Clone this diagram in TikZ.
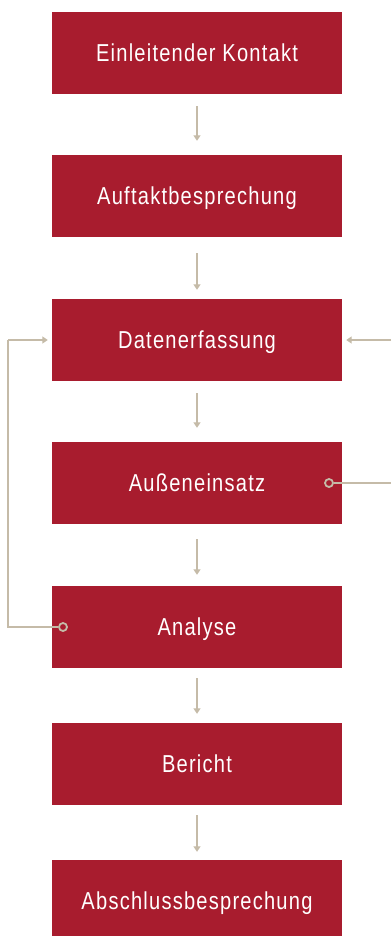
\documentclass[tikz,border=0pt]{standalone}
\usepackage{fontspec}
\setmainfont{Liberation Sans}[FakeStretch=0.82,LetterSpace=5]
\usetikzlibrary{arrows.meta}
\definecolor{boxred}{HTML}{A81C2E}
\definecolor{flowc}{HTML}{C5BBA8}
\tikzset{
  stepbox/.style={fill=boxred, draw=none, minimum width=290pt, minimum height=82pt,
    inner sep=0pt, text=white, font=\fontsize{24.5pt}{28pt}\selectfont,
    text height=17.6pt, text depth=0pt, anchor=center},
  flow/.style={draw=flowc, line width=2pt, -{Triangle[length=5.5pt,width=7pt]}},
  loopline/.style={draw=flowc, line width=2pt},
  dot/.style={circle, draw=flowc, fill=boxred, line width=1.8pt, minimum size=8pt, inner sep=0pt}
}
\begin{document}
\begin{tikzpicture}[x=1pt,y=-1pt]
\useasboundingbox (0,0) rectangle (391,936);
\node[stepbox] (b1) at (197,53) {Einleitender Kontakt};
\node[stepbox] (b2) at (197,196) {Auftaktbesprechung};
\node[stepbox] (b3) at (197,340) {Datenerfassung};
\node[stepbox] (b4) at (197,483) {Außeneinsatz};
\node[stepbox] (b5) at (197,627) {Analyse};
\node[stepbox] (b6) at (197,764) {Bericht};
\node[stepbox] (b7) at (197,901) {Abschlussbesprechung};
\draw[flow, shorten <=12pt, shorten >=14pt] (b1) -- (b2);
\draw[flow, shorten <=16pt, shorten >=9pt] (b2) -- (b3);
\draw[flow, shorten <=12pt, shorten >=14pt] (b3) -- (b4);
\draw[flow, shorten <=15pt, shorten >=11pt] (b4) -- (b5);
\draw[flow, shorten <=10pt, shorten >=9pt] (b5) -- (b6);
\draw[flow, shorten <=10pt, shorten >=8pt] (b6) -- (b7);
% left loop
\node[dot] (d5) at (63,627) {};
\coordinate (lb) at (8,627);
\coordinate (lt) at (8,340);
\draw[loopline] (d5.west) -- (lb) -- (lt);
\draw[flow, shorten >=4pt] (lt) -- (b3.west);
% right loop
\node[dot] (d4) at (329,483) {};
\coordinate (rb) at (391,483);
\coordinate (rt) at (391,340);
\draw[loopline] (d4.east) -- (rb);
\draw[flow, shorten >=4pt] (rt) -- (b3.east);
\end{tikzpicture}
\end{document}
